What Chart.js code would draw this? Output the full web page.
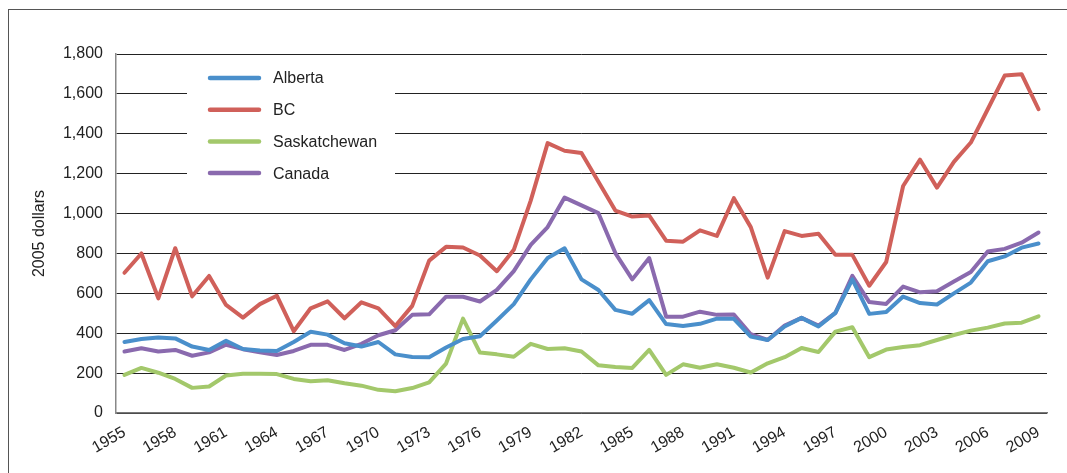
<!DOCTYPE html>
<html>
<head>
<meta charset="utf-8">
<script src="https://cdn.jsdelivr.net/npm/chart.js@4"></script>
<style>
  body { margin: 0; overflow: hidden; background: #fff; }
  #frame { position: absolute; left: 8px; top: 9px; width: 1200px; height: 600px; border: 1px solid #555; }
  #wrap { position: absolute; left: 0; top: 0; width: 1067px; height: 473px; }
</style>
</head>
<body>
<div id="frame"></div>
<div id="wrap"><canvas id="myChart"></canvas></div>
<script>
const years = [1955, 1956, 1957, 1958, 1959, 1960, 1961, 1962, 1963, 1964,
  1965, 1966, 1967, 1968, 1969, 1970, 1971, 1972, 1973, 1974,
  1975, 1976, 1977, 1978, 1979, 1980, 1981, 1982, 1983, 1984,
  1985, 1986, 1987, 1988, 1989, 1990, 1991, 1992, 1993, 1994,
  1995, 1996, 1997, 1998, 1999, 2000, 2001, 2002, 2003, 2004,
  2005, 2006, 2007, 2008, 2009];

const tickYears = [1955, 1958, 1961, 1964, 1967, 1970, 1973, 1976, 1979, 1982,
  1985, 1988, 1991, 1994, 1997, 2000, 2003, 2006, 2009];

const alberta = [356, 371, 379, 374, 333, 316, 362, 321, 313, 311,
  356, 407, 393, 350, 333, 356, 294, 281, 280, 328,
  371, 385, 464, 546, 670, 777, 826, 670, 617, 517,
  498, 566, 446, 436, 447, 473, 472, 383, 366, 434,
  477, 434, 502, 670, 497, 506, 584, 551, 544, 600,
  654, 761, 785, 829, 850];

const bc = [703, 800, 575, 826, 585, 687, 542, 478, 546, 588,
  410, 525, 560, 475, 555, 525, 436, 537, 764, 833,
  830, 790, 711, 818, 1065, 1353, 1315, 1304, 1159, 1015,
  985, 990, 864, 859, 916, 888, 1077, 932, 679, 912,
  888, 899, 793, 793, 638, 757, 1138, 1270, 1130, 1259,
  1356, 1523, 1692, 1699, 1523];

const saskatchewan = [191, 226, 202, 171, 126, 133, 188, 197, 197, 195,
  171, 159, 164, 149, 137, 116, 109, 125, 154, 248,
  473, 303, 294, 282, 347, 321, 325, 308, 239, 231,
  226, 316, 191, 244, 227, 244, 227, 203, 249, 280,
  326, 306, 408, 430, 280, 318, 331, 340, 366, 391,
  413, 428, 449, 453, 485];

const canada = [308, 325, 308, 316, 287, 304, 342, 320, 304, 291,
  311, 342, 342, 316, 347, 390, 415, 492, 495, 583,
  583, 559, 617, 711, 843, 932, 1080, 1041, 1002, 802,
  670, 777, 483, 483, 508, 492, 494, 395, 366, 438,
  477, 438, 502, 688, 556, 547, 634, 605, 610, 659,
  707, 810, 823, 854, 905];

const yMin = 0, yMax = 1800, yStep = 200;

Chart.defaults.font.family = "'Liberation Sans', Arial, Helvetica, sans-serif";
Chart.defaults.color = "#222";

// legend drawn inside the plot, white box breaks the gridlines
const boxLegend = {
  id: "boxLegend",
  beforeDatasetsDraw(chart) {
    const ctx = chart.ctx;
    ctx.save();
    ctx.fillStyle = "#fff";
    ctx.fillRect(187, 60, 208, 130);
    ctx.font = "16px 'Liberation Sans', Arial, sans-serif";
    ctx.textBaseline = "middle";
    chart.data.datasets.forEach((ds, i) => {
      const y = 78 + i * 31.7;
      ctx.strokeStyle = ds.borderColor;
      ctx.lineWidth = 4.5;
      ctx.lineCap = "round";
      ctx.beginPath();
      ctx.moveTo(210, y);
      ctx.lineTo(259, y);
      ctx.stroke();
      ctx.fillStyle = "#222";
      ctx.fillText(ds.label, 273, y + 1);
    });
    ctx.restore();
  }
};

new Chart("myChart", {
  type: "line",
  data: {
    labels: years,
    datasets: [
      { label: "Alberta", data: alberta, borderColor: "#4a8fcb" },
      { label: "BC", data: bc, borderColor: "#d0605a" },
      { label: "Saskatchewan", data: saskatchewan, borderColor: "#a3c86b" },
      { label: "Canada", data: canada, borderColor: "#8a6aae" }
    ]
  },
  options: {
    responsive: true,
    maintainAspectRatio: false,
    animation: false,
    layout: { padding: { left: 26, top: 54, right: 20, bottom: 0 } },
    elements: {
      point: { radius: 0 },
      line: { borderWidth: 4, tension: 0, borderJoinStyle: "round", borderCapStyle: "round" }
    },
    plugins: {
      legend: { display: false },
      tooltip: { enabled: false }
    },
    scales: {
      x: {
        offset: true,
        grid: { display: false, drawTicks: false },
        border: { color: "#777", width: 1.5 },
        ticks: {
          autoSkip: false,
          minRotation: 30,
          maxRotation: 30,
          padding: 10,
          font: { size: 16 },
          callback: function(v, i) {
            const yr = years[i];
            return tickYears.includes(yr) ? String(yr) : "";
          }
        },
        afterFit: s => { s.height = 60; }
      },
      y: {
        min: yMin,
        max: yMax,
        grid: { color: "#222", drawTicks: false },
        border: { color: "#888", width: 1.5 },
        ticks: {
          stepSize: yStep,
          padding: 13,
          font: { size: 16 },
          callback: v => v.toLocaleString("en-US")
        },
        title: { display: true, text: "2005 dollars", font: { size: 16 }, padding: { top: 4, bottom: 0 } },
        afterFit: s => { s.width = 90; }
      }
    }
  },
  plugins: [boxLegend]
});
</script>
</body>
</html>
